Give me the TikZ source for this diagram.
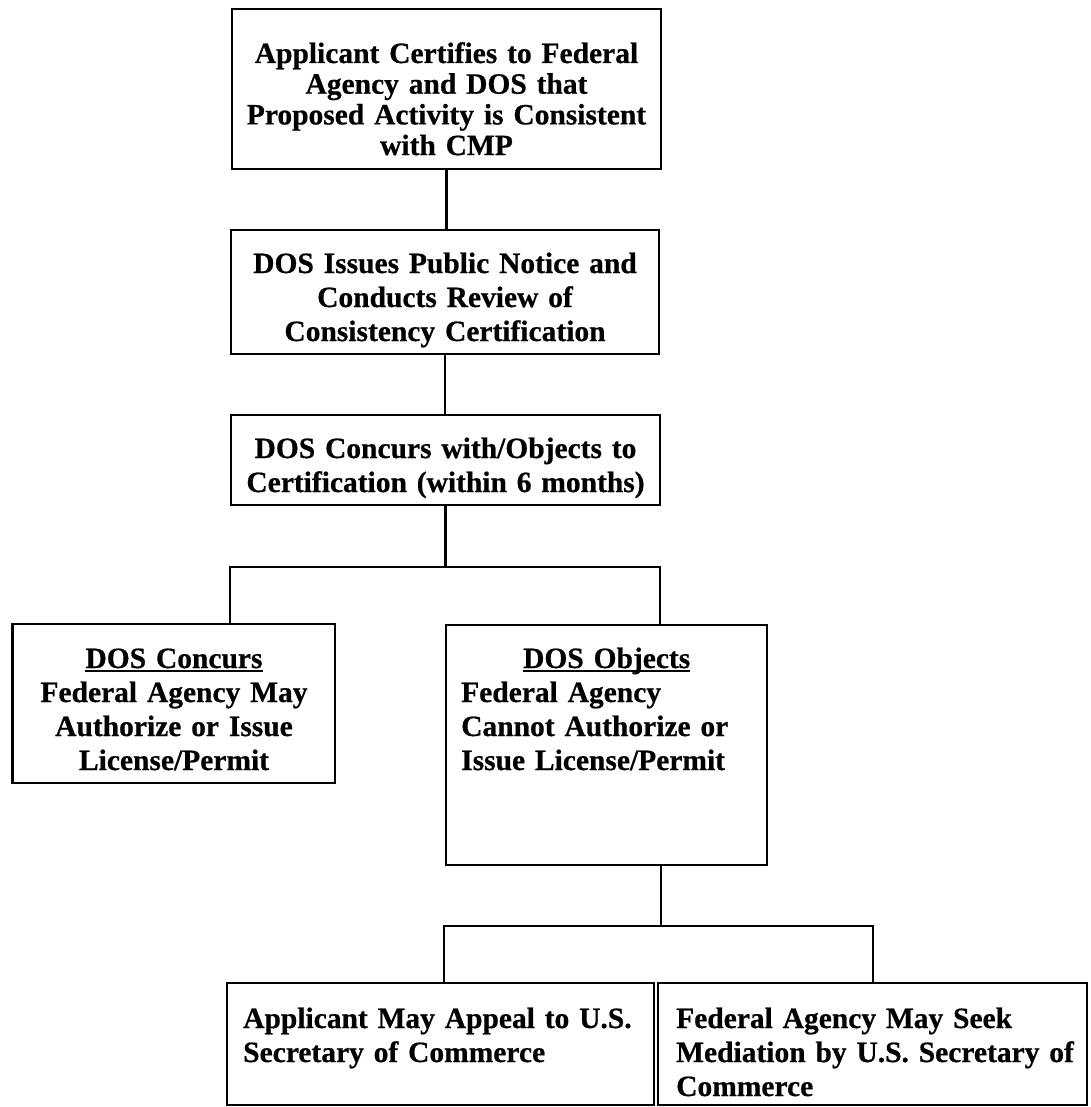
\documentclass[tikz,border=0pt]{standalone}
\usepackage{fontspec}
\setmainfont[WordSpace=0.8, BoldFeatures={FakeBold=0.6}]{Liberation Serif}
\newcommand\myul[1]{\setbox0\hbox{#1}\rlap{\rule[-4pt]{\wd0}{1.8pt}}\box0}
\tikzset{
  x=1pt, y=-1pt,
  boxnode/.style={draw, line width=2.6pt, inner sep=0pt, outer sep=0pt, anchor=north west},
  conn/.style={draw, line width=2.2pt},
  ctext/.style={anchor=base, inner sep=0pt, align=center, font=\bfseries\fontsize{29.5}{34}\selectfont},
  ltext/.style={anchor=base west, inner sep=0pt, align=left, font=\bfseries\fontsize{29.5}{34}\selectfont},
}
\begin{document}
\begin{tikzpicture}
\useasboundingbox (0,0) rectangle (1090,1107);
% boxes
\node[boxnode, minimum width=429pt, minimum height=160pt] (b1) at (232,9) {};
\node[boxnode, minimum width=428pt, minimum height=124pt] (b2) at (231,230) {};
\node[boxnode, minimum width=429pt, minimum height=90pt] (b3) at (231,415) {};
\node[boxnode, minimum width=322.5pt, minimum height=159pt] (b4) at (12.5,624) {};
\node[boxnode, minimum width=321pt, minimum height=240pt] (b5) at (446,625) {};
\node[boxnode, minimum width=427pt, minimum height=122pt] (b6) at (227,983) {};
\node[boxnode, minimum width=429pt, minimum height=122pt] (b7) at (658,983) {};
% texts
\node[ctext, text width=420pt, font=\bfseries\fontsize{29.5}{30.7}\selectfont] (t1) at (446.5,63)
  {Applicant Certifies to Federal\\Agency and DOS that\\Proposed Activity is Consistent\\with CMP};
\node[ctext, text width=420pt] (t2) at (445,273)
  {DOS Issues Public Notice and\\Conducts Review of\\Consistency Certification};
\node[ctext, text width=420pt] (t3) at (445.5,458)
  {DOS Concurs with/Objects to\\Certification (within 6 months)};
\node[ctext, text width=312pt] (t4) at (174,668)
  {\myul{DOS Concurs}\\Federal Agency May\\Authorize or Issue\\License/Permit};
\node[ltext, text width=291pt] (t5) at (461,668)
  {\makebox[\linewidth][c]{\myul{DOS Objects}}\\Federal Agency\\Cannot Authorize or\\Issue License/Permit};
\node[ltext, text width=405pt] (t6) at (243,1028)
  {Applicant May Appeal to U.S.\\Secretary of Commerce};
\node[ltext, text width=408pt] (t7) at (676,1028)
  {Federal Agency May Seek\\Mediation by U.S. Secretary of\\Commerce};
% connectors
\coordinate (j1l) at (230,567);
\coordinate (j1r) at (660,567);
\coordinate (j2c) at (661,926);
\coordinate (j2l) at (444,926);
\coordinate (j2r) at (873,926);
\draw[conn] (b1.south) -- (b1.south |- b2.north);
\draw[conn] (b2.south) -- (b2.south |- b3.north);
\draw[conn] (b3.south) -- (b3.south |- j1l);
\draw[conn] (j1l |- b4.north) -- (j1l) -- (j1r) -- (j1r |- b5.north);
\draw[conn] (j2c |- b5.south) -- (j2c);
\draw[conn] (j2l |- b6.north) -- (j2l) -- (j2r) -- (j2r |- b7.north);
\end{tikzpicture}
\end{document}
